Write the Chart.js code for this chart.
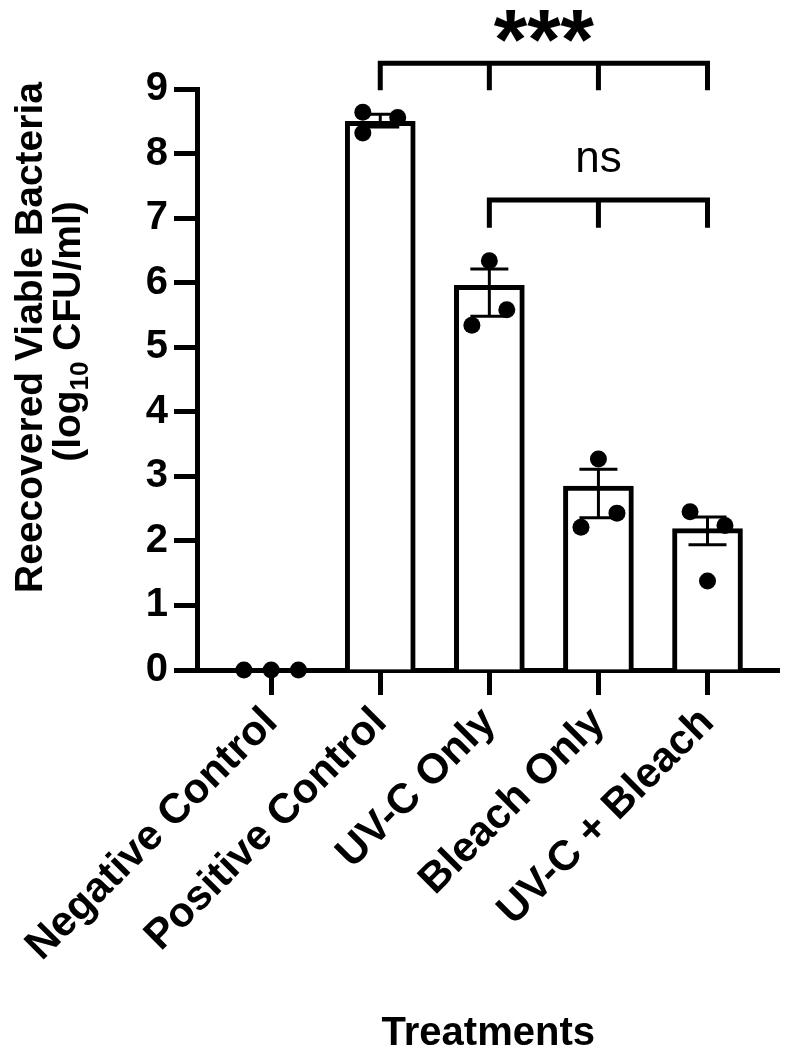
<!DOCTYPE html>
<html><head><meta charset="utf-8">
<script src="https://cdn.jsdelivr.net/npm/chart.js@4.4.1/dist/chart.umd.min.js"></script>
<style>html,body{margin:0;padding:0;background:#fff}#wrap{width:788px;height:1056px}</style>
</head><body><div id="wrap"><canvas id="c" width="788" height="1056"></canvas></div>
<script>
// ---- data ----
const categories = ['Negative Control', 'Positive Control', 'UV-C Only', 'Bleach Only', 'UV-C + Bleach'];
const barMeans   = [0, 8.50, 5.96, 2.85, 2.19];
const errUpper   = [0, 8.61, 6.21, 3.11, 2.37];
const errLower   = [0, 8.41, 5.48, 2.36, 1.94];
const pointGroup  = [0, 0, 0, 1, 1, 1, 2, 2, 2, 3, 3, 3, 4, 4, 4];
const pointJitter = [-0.25, 0, 0.25, -0.16, -0.16, 0.16, 0, 0.16, -0.16, 0, 0.17, -0.16, -0.16, 0.16, 0];
const pointValues = [0, 0, 0, 8.64, 8.32, 8.56, 6.34, 5.58, 5.34, 3.27, 2.43, 2.21, 2.45, 2.24, 1.38];
const yTickValues = [0, 1, 2, 3, 4, 5, 6, 7, 8, 9];
const bracketFrom   = [1, 2];
const bracketTo     = [4, 4];
const bracketLevel  = [9.40, 7.28];
const bracketDrop   = [8.98, 6.85];
const bracketLabels = ['***', 'ns'];
const bracketLabelX = [2.5, 3];
const bracketLabelY = [9.97, 7.90];
const yTitleLines = ['Reecovered Viable Bacteria', '(log', '10', ' CFU/ml)'];
const xTitle = 'Treatments';

const FONT = "'Liberation Sans', Arial, Helvetica, sans-serif";
Chart.defaults.font.family = FONT;
Chart.defaults.color = '#000';

const errorBarPlugin = {
  id: 'errorBars',
  afterDatasetDraw(chart, args) {
    if (args.meta.type !== 'bar') return;
    const ctx = chart.ctx, x = chart.scales.x, y = chart.scales.y;
    ctx.save();
    ctx.strokeStyle = '#000';
    ctx.lineWidth = 3;
    categories.forEach((c, i) => {
      if (errUpper[i] === errLower[i]) return;
      const px = x.getPixelForValue(i);
      const yu = y.getPixelForValue(errUpper[i]);
      const yl = y.getPixelForValue(errLower[i]);
      ctx.beginPath();
      ctx.moveTo(px, yu); ctx.lineTo(px, yl);
      ctx.moveTo(px - 19, yu); ctx.lineTo(px + 19, yu);
      ctx.moveTo(px - 19, yl); ctx.lineTo(px + 19, yl);
      ctx.stroke();
    });
    ctx.restore();
  }
};

const annotPlugin = {
  id: 'annot',
  afterDraw(chart) {
    const ctx = chart.ctx, x = chart.scales.x, y = chart.scales.y;
    ctx.save();
    ctx.strokeStyle = '#000';
    ctx.fillStyle = '#000';
    ctx.lineWidth = 5;
    ctx.lineJoin = 'miter';
    bracketFrom.forEach((f, k) => {
      const yl = y.getPixelForValue(bracketLevel[k]);
      const yd = y.getPixelForValue(bracketDrop[k]);
      ctx.beginPath();
      ctx.moveTo(x.getPixelForValue(f), yd);
      ctx.lineTo(x.getPixelForValue(f), yl);
      ctx.lineTo(x.getPixelForValue(bracketTo[k]), yl);
      ctx.lineTo(x.getPixelForValue(bracketTo[k]), yd);
      for (let t = f + 1; t < bracketTo[k]; t++) {
        ctx.moveTo(x.getPixelForValue(t), yl);
        ctx.lineTo(x.getPixelForValue(t), yd);
      }
      ctx.stroke();
      const lab = bracketLabels[k];
      ctx.font = lab === 'ns' ? '44px ' + FONT : 'bold 86px ' + FONT;
      ctx.textAlign = 'center';
      ctx.textBaseline = 'alphabetic';
      const m = ctx.measureText(lab);
      const cy = y.getPixelForValue(bracketLabelY[k]);
      ctx.fillText(lab, x.getPixelForValue(bracketLabelX[k]),
        cy + (m.actualBoundingBoxAscent - m.actualBoundingBoxDescent) / 2);
    });
    // y axis title (two lines, rotated, with subscript)
    const cyT = (chart.chartArea.top + chart.chartArea.bottom) / 2 - 42;
    ctx.save();
    ctx.translate(42, cyT);
    ctx.rotate(-Math.PI / 2);
    ctx.font = 'bold 39px ' + FONT;
    ctx.textAlign = 'center';
    ctx.textBaseline = 'alphabetic';
    ctx.fillText(yTitleLines[0], 0, 0);
    ctx.restore();
    ctx.save();
    const big = 'bold 39px ' + FONT, small = 'bold 26px ' + FONT;
    ctx.font = big;
    const w1 = ctx.measureText(yTitleLines[1]).width;
    const w3 = ctx.measureText(yTitleLines[3]).width;
    ctx.font = small;
    const w2 = ctx.measureText(yTitleLines[2]).width;
    const total = w1 + w2 + w3;
    ctx.translate(80, cyT - 6);
    ctx.rotate(-Math.PI / 2);
    ctx.textAlign = 'left';
    ctx.textBaseline = 'alphabetic';
    let sx = -total / 2;
    ctx.font = big; ctx.fillText(yTitleLines[1], sx, 0); sx += w1;
    ctx.font = small; ctx.fillText(yTitleLines[2], sx, 8); sx += w2;
    ctx.font = big; ctx.fillText(yTitleLines[3], sx, 0);
    ctx.restore();
    ctx.restore();
  }
};

new Chart(document.getElementById('c'), {
  type: 'bar',
  data: {
    datasets: [
      {
        type: 'bar',
        data: categories.map((c, i) => ({ x: i, y: barMeans[i] })),
        backgroundColor: '#fff',
        borderColor: '#000',
        borderWidth: 5,
        barThickness: 70,
        borderSkipped: 'start',
        order: 1
      },
      {
        type: 'scatter',
        data: pointValues.map((v, i) => ({ x: pointGroup[i] + pointJitter[i], y: v })),
        backgroundColor: '#000',
        borderColor: '#000',
        borderWidth: 0,
        pointRadius: 8.5,
        clip: false,
        order: 0
      }
    ]
  },
  options: {
    responsive: false,
    animation: false,
    events: [],
    layout: { padding: { left: 137, right: 8, top: 89, bottom: 2 } },
    plugins: { legend: { display: false }, tooltip: { enabled: false } },
    scales: {
      x: {
        type: 'linear',
        offset: false,
        min: -0.68,
        max: 4.66,
        afterBuildTicks: s => { s.ticks = categories.map((c, i) => ({ value: i })); },
        afterFit: s => { s.height = 384; s.paddingLeft = 0; s.paddingRight = 0; },
        ticks: {
          callback: v => categories[v] !== undefined ? categories[v] : '',
          minRotation: 45, maxRotation: 45, autoSkip: false,
          font: { size: 42, weight: 'bold' }, padding: 3, color: '#000'
        },
        grid: { offset: false, drawOnChartArea: false, drawTicks: true, tickLength: 25, tickWidth: 5, color: '#000' },
        border: { display: true, width: 5, color: '#000' },
        title: { display: true, text: xTitle, font: { size: 40, weight: 'bold', lineHeight: 1 }, padding: { top: 0, bottom: 0 }, color: '#000' }
      },
      y: {
        min: 0, max: 9,
        afterBuildTicks: s => { s.ticks = yTickValues.map(v => ({ value: v })); },
        afterFit: s => { s.width = 60; },
        ticks: { font: { size: 40, weight: 'bold' }, padding: 6, color: '#000' },
        grid: { drawOnChartArea: false, drawTicks: true, tickLength: 23, tickWidth: 5, color: '#000' },
        border: { display: true, width: 5, color: '#000' }
      }
    }
  },
  plugins: [errorBarPlugin, annotPlugin]
});
</script></body></html>
